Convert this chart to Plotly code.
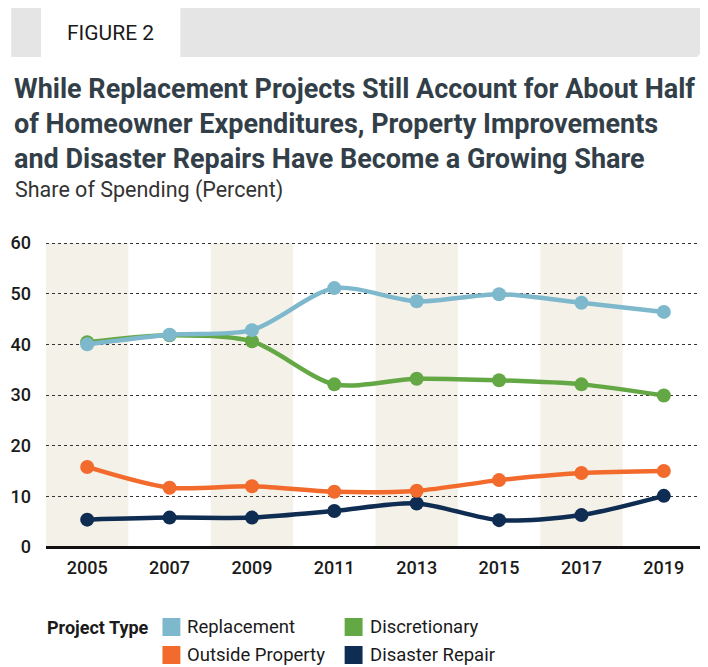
import plotly.graph_objects as go

years = [2005, 2007, 2009, 2011, 2013, 2015, 2017, 2019]
replacement = [40.0, 41.9, 42.8, 51.1, 48.5, 49.9, 48.2, 46.4]
discretionary = [40.4, 41.8, 40.6, 32.1, 33.2, 32.9, 32.1, 29.9]
outside_property = [15.8, 11.7, 12.0, 10.9, 11.1, 13.2, 14.6, 15.0]
disaster_repair = [5.4, 5.8, 5.8, 7.1, 8.6, 5.3, 6.3, 10.1]
bands = [(2004, 2006), (2008, 2010), (2012, 2014), (2016, 2018)]
yticks = [0, 10, 20, 30, 40, 50, 60]

series = [
    ("Disaster Repair", disaster_repair, "#0f2d52"),
    ("Outside Property", outside_property, "#f26b2d"),
    ("Discretionary", discretionary, "#63a844"),
    ("Replacement", replacement, "#7db8cc"),
]

# page body has an 8px margin; the figure is sized to fill the rest of the window
OFF = 8
W, H = 708 - OFF, 667 - OFF
L, R, T, B = 43 - OFF, 3, 242 - OFF, 120
PW, PH = W - L - R, H - T - B

def px(x):
    return (x - OFF - L) / PW

def py(y):
    return (H - B - (y - OFF)) / PH

FONT = "Roboto, Arial"
DARK = "#333f48"

fig = go.Figure()
for name, vals, col in series:
    fig.add_trace(go.Scatter(
        x=years, y=vals, name=name, mode="lines+markers",
        line=dict(color=col, width=4.5, shape="spline", smoothing=0.8),
        marker=dict(color=col, size=14),
        showlegend=False, cliponaxis=False,
    ))

shapes = []
for x0, x1 in bands:
    shapes.append(dict(type="rect", xref="x", yref="y", x0=x0, x1=x1, y0=0, y1=60,
                       fillcolor="#f4f1e8", line=dict(width=0), layer="below"))
# header band
hdr = f"M {px(8)},{py(8)} L {px(708)},{py(8)} L {px(708)},{py(44)} L {px(697)},{py(57)} L {px(8)},{py(57)} Z"
shapes.append(dict(type="path", xref="paper", yref="paper", path=hdr,
                   fillcolor="#e5e5e5", line=dict(width=0)))
shapes.append(dict(type="rect", xref="paper", yref="paper", x0=px(38), x1=px(178),
                   y0=py(8), y1=py(57), fillcolor="white", line=dict(width=0)))

annotations = [
    dict(text="FIGURE 2", x=px(108), y=py(33), xref="paper", yref="paper",
         xanchor="center", yanchor="middle", showarrow=False,
         font=dict(family=FONT, size=21, color="#1a1a1a")),
    dict(text="<b>While Replacement Projects Still Account for About Half<br>of Homeowner Expenditures, Property Improvements<br>and Disaster Repairs Have Become a Growing Share</b>",
         x=px(9), y=py(71), xref="paper", yref="paper", xanchor="left", yanchor="top",
         align="left", showarrow=False, font=dict(family=FONT, size=27, color=DARK)),
    dict(text="Share of Spending (Percent)", x=px(10), y=py(190), xref="paper", yref="paper",
         xanchor="left", yanchor="middle", showarrow=False,
         font=dict(family=FONT, size=21.5, color="#333333")),
    dict(text="<b>Project Type</b>", x=px(148), y=py(627), xref="paper", yref="paper",
         xanchor="right", yanchor="middle", showarrow=False,
         font=dict(family=FONT, size=18, color="#1a1a1a")),
]

legend_items = [
    ("Replacement", "#7db8cc", 160, 627),
    ("Discretionary", "#63a844", 343, 627),
    ("Outside Property", "#f26b2d", 160, 655),
    ("Disaster Repair", "#0f2d52", 343, 655),
]
for name, col, x, y in legend_items:
    shapes.append(dict(type="rect", xref="paper", yref="paper", x0=px(x), x1=px(x + 18),
                       y0=py(y - 9), y1=py(y + 9), fillcolor=col, line=dict(width=0)))
    annotations.append(dict(text=name, x=px(x + 23), y=py(y), xref="paper", yref="paper",
                            xanchor="left", yanchor="middle", showarrow=False,
                            font=dict(family=FONT, size=18.5, color="#1a1a1a")))

fig.update_layout(
    width=W, height=H, margin=dict(l=L, r=R, t=T, b=B),
    paper_bgcolor="white", plot_bgcolor="white",
    shapes=shapes, annotations=annotations,
    xaxis=dict(range=[2004, 2020], tickvals=years, ticktext=[str(y) for y in years],
               showgrid=False, zeroline=False, showline=False, ticks="",
               tickfont=dict(family=FONT, size=18, color="#1a1a1a", weight=500),
               ticklabelstandoff=8),
    yaxis=dict(range=[0, 60.2], tickvals=yticks, showgrid=True, griddash="dot",
               gridcolor="#333333", gridwidth=1, zeroline=True, zerolinecolor="#111111",
               zerolinewidth=2.5, ticks="", ticklabelstandoff=14,
               tickfont=dict(family=FONT, size=18, color="#1a1a1a", weight=500)),
)

fig.write_html("out.html")
